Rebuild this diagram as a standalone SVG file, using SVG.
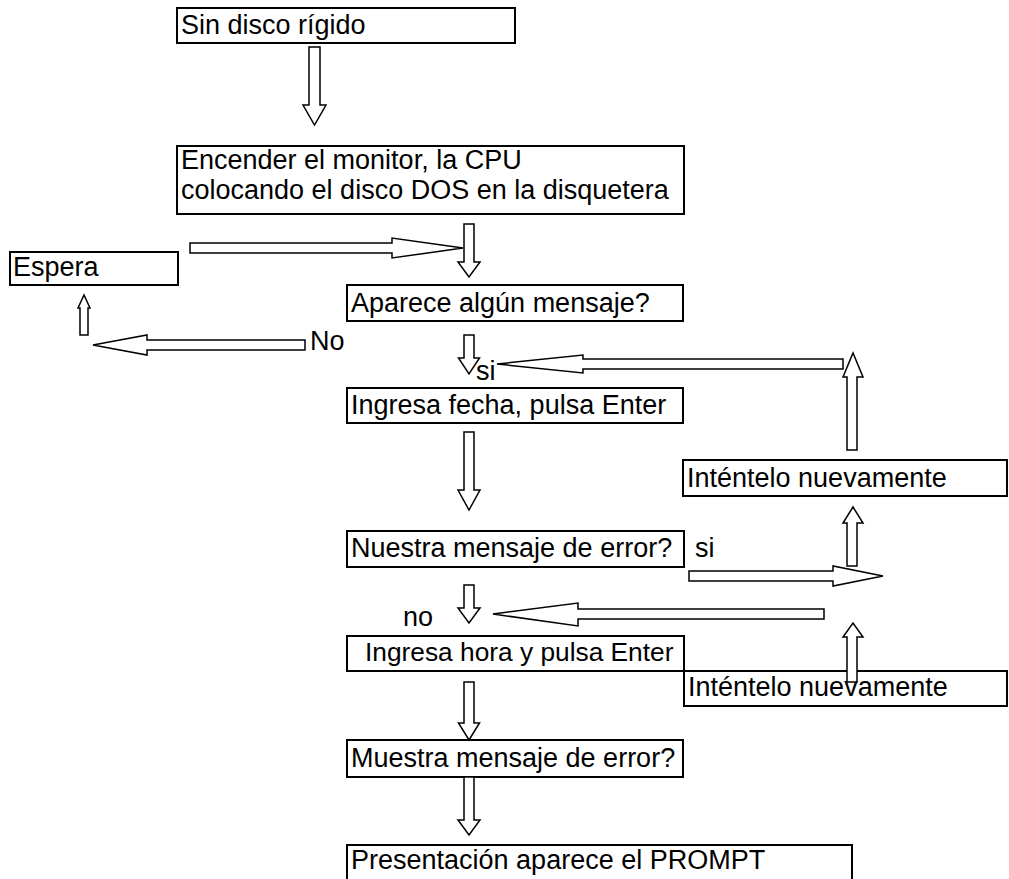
<svg xmlns="http://www.w3.org/2000/svg" width="1009" height="879" viewBox="0 0 1009 879">
<style>
.box{fill:#fff;stroke:#000;stroke-width:2}
.arr{fill:#fff;stroke:#000;stroke-width:1.5;stroke-linejoin:miter}
text{font-family:"Liberation Sans",Arial,sans-serif;font-size:27px;fill:#000}
</style>
<rect width="1009" height="879" fill="#fff"/>
<g id="n1"><rect class="box" x="177" y="8" width="338" height="35"/><text x="181" y="34">Sin disco rígido</text></g>
<g id="n2"><rect class="box" x="177" y="146" width="507" height="68"/><text x="181" y="169">Encender el monitor, la CPU</text><text x="181" y="199">colocando el disco DOS en la disquetera</text></g>
<g id="n-espera"><rect class="box" x="10" y="252" width="168" height="33"/><text x="13" y="276">Espera</text></g>
<g id="n3"><rect class="box" x="347" y="285" width="336" height="36"/><text x="351" y="312">Aparece algún mensaje?</text></g>
<g id="n4"><rect class="box" x="347" y="388" width="336" height="35"/><text x="351" y="414">Ingresa fecha, pulsa Enter</text></g>
<g id="n-retry1"><rect class="box" x="683" y="460" width="324" height="36"/><text x="687" y="487">Inténtelo nuevamente</text></g>
<g id="n5"><rect class="box" x="347" y="531" width="337" height="36"/><text x="351" y="557">Nuestra mensaje de error?</text></g>
<g id="n6"><rect class="box" x="347" y="636" width="337" height="35"/><text x="365" y="661" style="font-size:26.3px">Ingresa hora y pulsa Enter</text></g>
<g id="n-retry2"><rect class="box" x="684" y="671" width="323" height="35"/><text x="688" y="696">Inténtelo nuevamente</text></g>
<g id="n7"><rect class="box" x="347" y="740" width="336" height="37"/><text x="351" y="767">Muestra mensaje de error?</text></g>
<g id="n8"><rect class="box" x="347" y="845" width="505" height="40"/><text x="351" y="869">Presentación aparece el PROMPT</text></g>
<g id="connectors">
<polygon class="arr" points="309,47 320,47 320,105 326,105 314.5,125 303,105 309,105"/>
<polygon class="arr" points="464,224 474,224 474,262 480,262 469,277 458,262 464,262"/>
<polygon class="arr" points="190,243 392,243 392,238 463,248 392,258 392,253 190,253"/>
<polygon class="arr" points="80,335 88,335 88,308 90,308 84,295 78,308 80,308"/>
<polygon class="arr" points="305,340 147,340 147,335 93,345 147,355 147,350 305,350"/>
<polygon class="arr" points="464,335 474,335 474,358 479.5,358 469,374 458.5,358 464,358"/>
<polygon class="arr" points="843,359 583,359 583,355 497,364 583,373 583,369 843,369"/>
<polygon class="arr" points="847,450 857,450 857,377 863,377 853,353 843,377 847,377"/>
<polygon class="arr" points="464,432 474,432 474,490 480,490 469,510 458,490 464,490"/>
<polygon class="arr" points="847,566 857,566 857,523 863,523 853,507 843,523 847,523"/>
<polygon class="arr" points="689,571 833,571 833,566 883,576 833,586 833,581 689,581"/>
<polygon class="arr" points="464,585 474,585 474,608 480,608 469,623 458,608 464,608"/>
<polygon class="arr" points="824,609 578,609 578,603 493,614 578,626 578,619 824,619"/>
<polygon class="arr" points="847,682 857,682 857,637 863,637 853,623 843,637 847,637"/>
<polygon class="arr" points="464,682 474,682 474,723 479.5,723 469,740 458.5,723 464,723"/>
<polygon class="arr" points="464,777 474,777 474,820 480,820 469,835 458,820 464,820"/>
</g>
<g id="labels">
<text x="310" y="350">No</text>
<text x="476" y="380">si</text>
<text x="695" y="557">si</text>
<text x="403" y="626">no</text>
</g>
</svg>
